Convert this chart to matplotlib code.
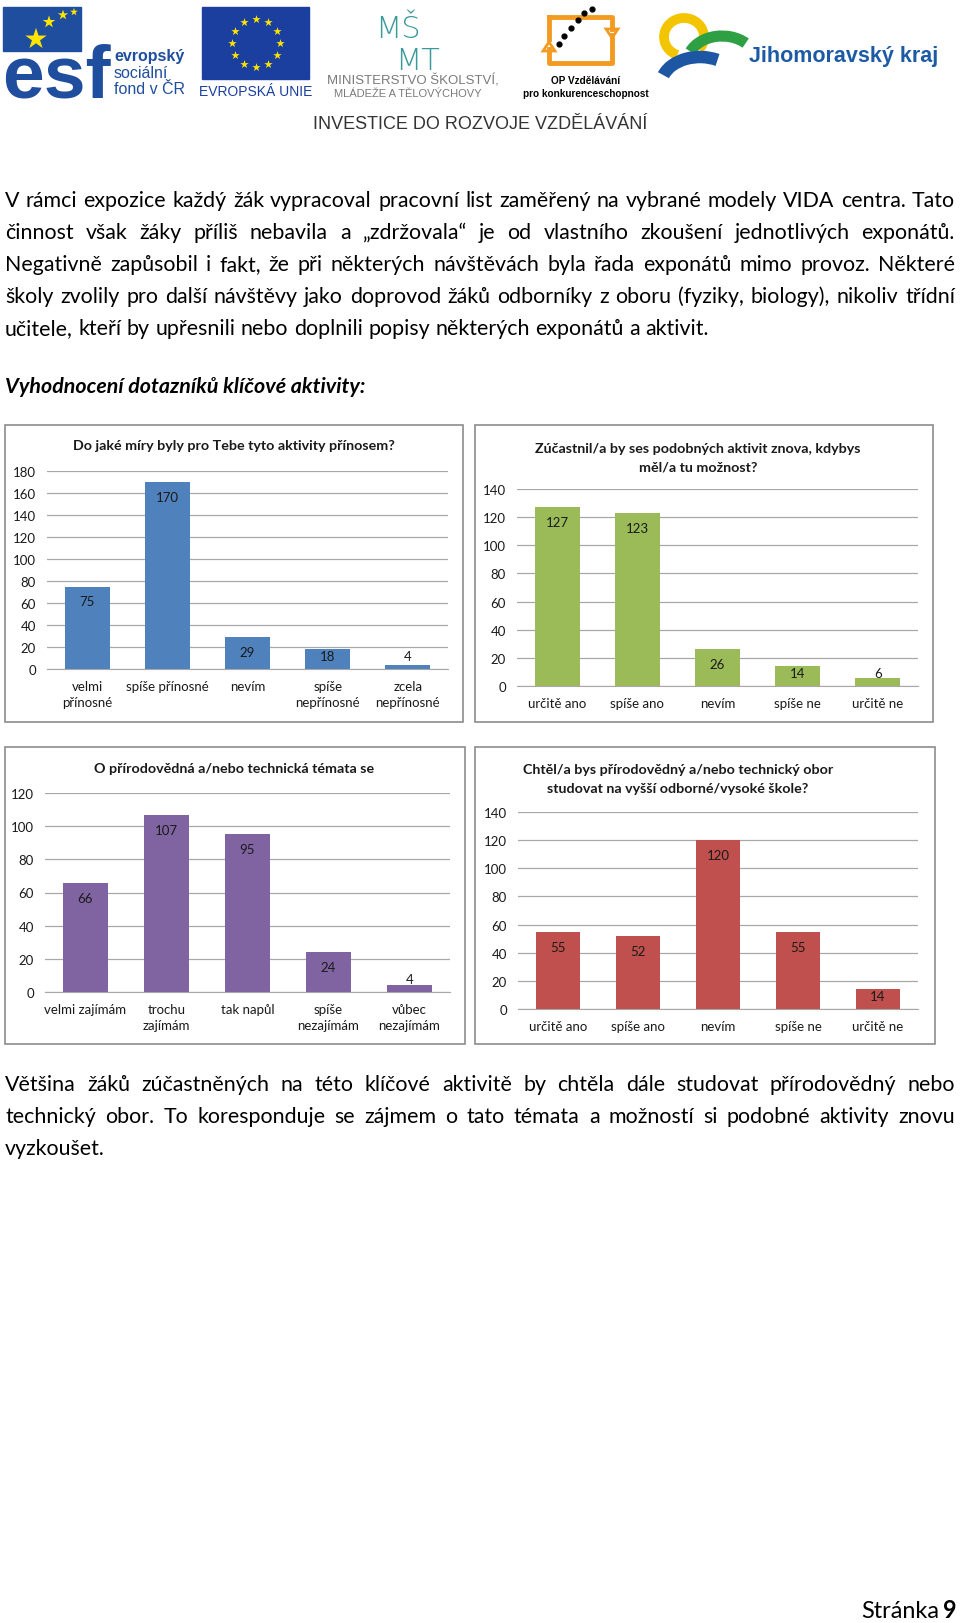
import numpy as np
import matplotlib
matplotlib.use('Agg')
import matplotlib.pyplot as plt
from matplotlib.patches import Rectangle, Arc, Polygon

# --- data ---------------------------------------------------------------
c1_title = ["Do jaké míry byly pro Tebe tyto aktivity přínosem?"]
c1_cats = ["velmi\npřínosné", "spíše přínosné", "nevím", "spíše\nnepřínosné", "zcela\nnepřínosné"]
c1_vals = [75, 170, 29, 18, 4]

c2_title = ["Zúčastnil/a by ses podobných aktivit znova, kdybys", "měl/a tu možnost?"]
c2_cats = ["určitě ano", "spíše ano", "nevím", "spíše ne", "určitě ne"]
c2_vals = [127, 123, 26, 14, 6]

c3_title = ["O přírodovědná a/nebo technická témata se"]
c3_cats = ["velmi zajímám", "trochu\nzajímám", "tak napůl", "spíše\nnezajímám", "vůbec\nnezajímám"]
c3_vals = [66, 107, 95, 24, 4]

c4_title = ["Chtěl/a bys přírodovědný a/nebo technický obor", "studovat na vyšší odborné/vysoké škole?"]
c4_cats = ["určitě ano", "spíše ano", "nevím", "spíše ne", "určitě ne"]
c4_vals = [55, 52, 120, 55, 14]

para1 = [
    "V rámci expozice každý žák vypracoval pracovní list zaměřený na vybrané modely VIDA centra. Tato",
    "činnost však žáky příliš nebavila a „zdržovala“ je od vlastního zkoušení jednotlivých exponátů.",
    "Negativně zapůsobil i fakt, že při některých návštěvách byla řada exponátů mimo provoz. Některé",
    "školy zvolily pro další návštěvy jako doprovod žáků odborníky z oboru (fyziky, biology), nikoliv třídní",
    "učitele, kteří by upřesnili nebo doplnili popisy některých exponátů a aktivit.",
]
heading = "Vyhodnocení dotazníků klíčové aktivity:"
para2 = [
    "Většina žáků zúčastněných na této klíčové aktivitě by chtěla dále studovat přírodovědný nebo",
    "technický obor. To koresponduje se zájmem o tato témata a možností si podobné aktivity znovu",
    "vyzkoušet.",
]

FONT = ['Lato', 'DejaVu Sans']
W, H = 960, 1624
fig = plt.figure(figsize=(9.6, 16.24), dpi=100)
page = fig.add_axes([0, 0, 1, 1])
page.set_xlim(0, W)
page.set_ylim(H, 0)
page.axis('off')
renderer = fig.canvas.get_renderer()


def px_axes(x0, y0, x1, y1):
    return fig.add_axes([x0 / W, 1 - y1 / H, (x1 - x0) / W, (y1 - y0) / H])


def text_width(s, **kw):
    t = page.text(0, 0, s, **kw)
    w = t.get_window_extent(renderer).width
    t.remove()
    return w


def draw_line(s, y, x0, x1, justify, **kw):
    words = s.split(' ')
    widths = [text_width(w, **kw) for w in words]
    if justify and len(words) > 1:
        gap = (x1 - x0 - sum(widths)) / (len(words) - 1)
    else:
        gap = text_width('a a', **kw) - text_width('aa', **kw)
    x = x0
    for w, ww in zip(words, widths):
        page.text(x, y, w, ha='left', va='baseline', **kw)
        x += ww + gap


# --- logos (rough) ------------------------------------------------------
# esf
page.add_patch(Rectangle((3, 8), 78, 44, color='#1f4e9e', zorder=1))
page.text(2, 98, 'esf', fontsize=54, fontweight='bold', color='#1f4e9e',
          family=['Liberation Sans'], va='baseline', zorder=2)
page.scatter([36, 49, 63, 74], [40, 23, 16, 13], s=[260, 90, 60, 35], marker='*',
             color='#ffe500', zorder=3, linewidths=0)
for txt, yy, wt in [('evropský', 61, 'bold'), ('sociální', 78, 'normal'), ('fond v ČR', 94, 'normal')]:
    page.text(114, yy, txt, fontsize=11.5, fontweight=wt, color='#1f4e9e',
              family=['Liberation Sans'], va='baseline')
# EU flag
page.add_patch(Rectangle((202, 8), 107, 72, color='#1a3f9f'))
ang = np.arange(12) * np.pi / 6
page.scatter(256 + 24 * np.cos(ang), 44 + 24 * np.sin(ang), s=40, marker='*',
             color='#ffe500', linewidths=0, zorder=3)
page.text(256, 96, 'EVROPSKÁ UNIE', fontsize=10, color='#1a3f9f', ha='center',
          va='baseline', family=['Liberation Sans'])
# MSMT
page.text(398, 38, 'MŠ', fontsize=22, color='#3a9a9a', ha='center', va='baseline',
          family=['DejaVu Sans'], fontweight='light')
page.text(418, 70, 'MT', fontsize=22, color='#3a9a9a', ha='center', va='baseline',
          family=['DejaVu Sans'], fontweight='light')
page.text(413, 85, 'MINISTERSTVO ŠKOLSTVÍ,', fontsize=9.5, color='#7a7a7a', ha='center',
          va='baseline', family=['Liberation Sans'])
page.text(408, 97, 'MLÁDEŽE A TĚLOVÝCHOVY', fontsize=8, color='#7a7a7a', ha='center',
          va='baseline', family=['Liberation Sans'])
# OP
page.plot([549, 549, 612, 612], [50, 64, 64, 36], color='#f39a21', lw=3.5)
page.plot([549, 549], [40, 18], color='#f39a21', lw=3.5)
page.plot([549, 612, 612], [18, 18, 30], color='#f39a21', lw=3.5)
page.add_patch(Polygon([[543, 52], [555, 52], [549, 43]], closed=True, fc='white', ec='#f39a21', lw=2))
page.add_patch(Polygon([[606, 30], [618, 30], [612, 39]], closed=True, fc='white', ec='#f39a21', lw=2))
page.scatter([559, 564, 571, 578, 584, 592], [45, 37, 29, 21, 14, 10], s=12, color='black', zorder=3)
page.text(586, 84, 'OP Vzdělávání', fontsize=7.2, fontweight='bold', ha='center', va='baseline',
          family=['Liberation Sans'])
page.text(586, 97, 'pro konkurenceschopnost', fontsize=7.2, fontweight='bold', ha='center',
          va='baseline', family=['Liberation Sans'])
# Jihomoravsky kraj
page.add_patch(Arc((684, 38), 40, 38, theta1=110, theta2=400, lw=7, color='#f2c500'))
page.add_patch(Arc((722, 64), 70, 54, theta1=200, theta2=320, lw=8, color='#2ea043'))
page.add_patch(Arc((700, 86), 78, 56, theta1=195, theta2=305, lw=9, color='#1d56a3'))
page.text(749, 62, 'Jihomoravský kraj', fontsize=15.5, fontweight='bold', color='#1d5aa6',
          va='baseline', family=['Liberation Sans'])
page.text(480, 129, 'INVESTICE DO ROZVOJE VZDĚLÁVÁNÍ', fontsize=13, color='#333333',
          ha='center', va='baseline', family=['Liberation Sans Narrow', 'Liberation Sans'])

# --- body text ----------------------------------------------------------
fs0 = 14.0
fs = fs0 * 704 / text_width(para1[-1], fontsize=fs0, family=FONT)
body = dict(fontsize=fs, family=FONT, color='#000000')
for i, line in enumerate(para1):
    draw_line(line, 207 + 32 * i, 5, 955, i < len(para1) - 1, **body)
page.text(5, 393, heading, fontsize=fs, family=FONT, fontweight='bold', fontstyle='italic',
          va='baseline')
for i, line in enumerate(para2):
    draw_line(line, 1091 + 32 * i, 5, 955, i < len(para2) - 1, **body)

page.text(957, 1618, '9', fontsize=fs * 1.1, family=FONT, fontweight='bold', ha='right', va='baseline')
w9 = text_width('9', fontsize=fs * 1.1, family=FONT, fontweight='bold')
page.text(957 - w9 - 4, 1618, 'Stránka', fontsize=fs * 1.1, family=FONT, ha='right', va='baseline')


# --- charts -------------------------------------------------------------
def bar_chart(box, area, title, title_xy, cats, vals, color, ymax):
    page.add_patch(Rectangle((box[0], box[1]), box[2] - box[0], box[3] - box[1],
                             fill=False, ec='#8c8c8c', lw=1.2))
    tx, ty = title_xy
    for k, tl in enumerate(title):
        page.text(tx, ty + 19 * k, tl, fontsize=10.3, fontweight='bold', family=FONT,
                  ha='center', va='center', color='#1a1a1a')
    ax = px_axes(*area)
    ax.patch.set_alpha(0)
    x = np.arange(len(cats))
    ax.bar(x, vals, width=0.56, color=color, zorder=3)
    ax.set_xlim(-0.5, len(cats) - 0.5)
    ax.set_ylim(0, ymax)
    ax.set_yticks(np.arange(0, ymax + 1, 20))
    ax.yaxis.grid(True, color='#a8a8a8', lw=0.9)
    ax.set_axisbelow(True)
    for s in ['top', 'right', 'left']:
        ax.spines[s].set_visible(False)
    ax.spines['bottom'].set_color('#a8a8a8')
    ax.set_xticks(x)
    ax.set_xticklabels(cats, linespacing=1.4)
    ax.tick_params(length=0, labelsize=9.5, pad=8, labelcolor='#1a1a1a')
    for lab in ax.get_xticklabels() + ax.get_yticklabels():
        lab.set_family(FONT)
    for xi, v in zip(x, vals):
        top = ax.transData.transform((xi, v))[1]
        base = ax.transData.transform((xi, 0))[1]
        off = max(top - 15, base + 13) - base
        ax.annotate(str(v), (xi, 0), xytext=(0, off), textcoords='offset pixels',
                    ha='center', va='center', fontsize=9.5, family=FONT, color='#1a1a1a')


bar_chart((5, 426, 463, 723), (47, 472, 448, 670), c1_title, (234, 446),
          c1_cats, c1_vals, '#4f81bd', 180)
bar_chart((475, 426, 933, 723), (517, 490, 918, 687), c2_title, (698, 449),
          c2_cats, c2_vals, '#9bbb59', 140)
bar_chart((5, 748, 465, 1045), (45, 794, 450, 993), c3_title, (234, 769),
          c3_cats, c3_vals, '#8064a2', 120)
bar_chart((475, 748, 935, 1045), (518, 813, 918, 1010), c4_title, (678, 770),
          c4_cats, c4_vals, '#c0504d', 140)

fig.savefig('out.png', dpi=100)
